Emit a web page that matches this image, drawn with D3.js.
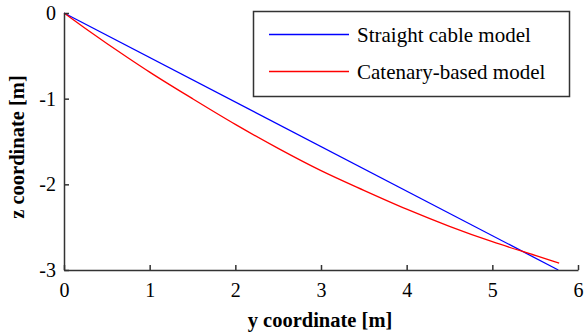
<!DOCTYPE html>
<html>
<head>
<meta charset="utf-8">
<script src="https://cdn.jsdelivr.net/npm/d3@7/dist/d3.min.js"></script>
<style>
  body { margin: 0; background: #fff; }
  svg { display: block; }
</style>
</head>
<body>
<svg id="chart" width="584" height="334"></svg>
<script>
// series
const straightY = [0, 5.77]
const straightZ = [0, -3.0]

const catenaryY = [0, 0.25, 0.5, 0.75, 1.0, 1.5, 2.0, 2.5, 3.0, 3.5, 4.0, 4.5, 5.0, 5.5, 5.78]
const catenaryZ = [0, -0.18, -0.355, -0.525, -0.69, -1.00, -1.30, -1.58, -1.84, -2.07, -2.29, -2.49, -2.67, -2.83, -2.92]

const xTicks = [0, 1, 2, 3, 4, 5, 6]
const yTicks = [0, -1, -2, -3]

const seriesNames = ['Straight cable model', 'Catenary-based model']
const seriesColors = ['#0000ff', '#ff0000']

const serif = '"Liberation Serif", Tinos, "Noto Serif", "DejaVu Serif", FreeSerif, "Times New Roman", Times, serif'

const svg = d3.select('#chart')
const x = d3.scaleLinear().domain([0, 6]).range([64, 578])
const y = d3.scaleLinear().domain([-3, 0]).range([270, 13])

const toPoints = (xs, zs) => xs.map((v, i) => ({ y: v, z: zs[i] }))
const series = [toPoints(straightY, straightZ), toPoints(catenaryY, catenaryZ)]

const line = d3.line()
    .curve(d3.curveMonotoneX)
    .x(d => x(d.y))
    .y(d => y(d.z))

series.forEach((data, i) => {
    svg.append('path')
        .datum(data)
        .attr('fill', 'none')
        .attr('stroke', seriesColors[i])
        .attr('stroke-width', 1.3)
        .attr('d', line)
})

const tickFmt = d => String(d)   // plain hyphen minus like the original

const styleAxis = g => {
    g.attr('font-family', null).attr('font-size', null)
    g.selectAll('path, line').attr('stroke', '#333').attr('stroke-width', 1.5)
    g.selectAll('text').attr('fill', '#000')
        .style('font-family', serif).style('font-size', '20px')
}

svg.append('g')
    .attr('transform', 'translate(0,270)')
    .call(d3.axisBottom(x).tickValues(xTicks).tickFormat(tickFmt).tickSizeInner(-5).tickSizeOuter(0).tickPadding(13))
    .call(styleAxis)

svg.append('g')
    .attr('transform', 'translate(64,0)')
    .call(d3.axisLeft(y).tickValues(yTicks).tickFormat(tickFmt).tickSizeInner(-5).tickSizeOuter(0).tickPadding(8))
    .call(styleAxis)

svg.append('text')
    .style('font-family', serif)
    .style('font-size', '20.5px')
    .style('font-weight', 'bold')
    .attr('x', 320)
    .attr('y', 327)
    .attr('text-anchor', 'middle')
    .text('y coordinate [m]')

svg.append('text')
    .style('font-family', serif)
    .style('font-size', '20.5px')
    .style('font-weight', 'bold')
    .attr('transform', 'translate(24,147) rotate(-90)')
    .attr('text-anchor', 'middle')
    .text('z coordinate [m]')

// legend
const legend = svg.append('g')
legend.append('rect')
    .attr('x', 253.5).attr('y', 11.5)
    .attr('width', 316).attr('height', 85)
    .attr('fill', '#fff')
    .attr('stroke', '#333')
    .attr('stroke-width', 1.5)

seriesNames.forEach((name, i) => {
    const ly = 34.5 + i * 37
    legend.append('line')
        .attr('x1', 269).attr('x2', 349)
        .attr('y1', ly).attr('y2', ly)
        .attr('stroke', seriesColors[i])
        .attr('stroke-width', 1.3)
    legend.append('text')
        .style('font-family', serif)
        .style('font-size', '21px')
        .attr('x', 357)
        .attr('y', ly + 7)
        .text(name)
})
</script>
</body>
</html>
